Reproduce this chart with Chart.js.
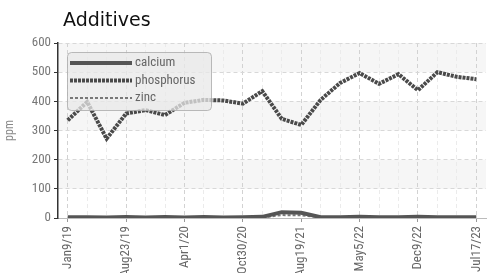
<!DOCTYPE html>
<html lang="en">
<head>
    <meta charset="UTF-8">
    <title>Additives</title>
    <script src="https://cdn.jsdelivr.net/npm/chart.js"></script>
    <style>
        html, body { margin: 0; padding: 0; background: #fff; overflow: hidden; }
        #wrap { width: 496px; height: 273px; }
    </style>
</head>
<body>
    <div id="wrap"><canvas id="additivesChart" width="496" height="273"></canvas></div>

    <script>
        // sample dates (only every 3rd one is shown on the axis)
        const dates = [
            "Jan9/19", "Mar28/19", "Jun10/19", "Aug23/19", "Nov5/19", "Jan20/20",
            "Apr1/20", "Jun15/20", "Aug24/20", "Oct30/20", "Feb3/21", "May12/21",
            "Aug19/21", "Nov2/21", "Feb14/22", "May5/22", "Jul20/22", "Sep28/22",
            "Dec9/22", "Mar1/23", "May10/23", "Jul17/23"
        ];
        const calcium = [3, 3, 2, 3, 2, 3, 2, 3, 2, 3, 4, 20, 18, 3, 3, 4, 3, 3, 4, 3, 3, 3];
        const phosphorus = [335, 398, 272, 358, 370, 353, 395, 405, 403, 392, 435, 340, 319, 405, 463, 497, 460, 493, 438, 500, 484, 476];
        const zinc = [1, 1, 1, 1, 1, 1, 1, 1, 1, 1, 2, 10, 9, 2, 1, 2, 1, 1, 2, 1, 1, 1];
        const yTicks = [0, 100, 200, 300, 400, 500, 600];
        const shadedBands = [[100, 200], [300, 400], [500, 600]];
        const chartTitle = "Additives";

        const narrow = "'Liberation Sans Narrow', 'Roboto Condensed', Roboto, sans-serif";

        // light horizontal stripes behind the grid
        const bandsPlugin = {
            id: "bands",
            beforeDraw(chart) {
                const { ctx, chartArea, scales } = chart;
                ctx.save();
                ctx.fillStyle = "#f6f6f6";
                shadedBands.forEach(([lo, hi]) => {
                    const y1 = scales.y.getPixelForValue(hi);
                    const y2 = scales.y.getPixelForValue(lo);
                    ctx.fillRect(chartArea.left, y1, chartArea.right - chartArea.left, y2 - y1);
                });
                ctx.restore();
            }
        };

        // title sits a little right of the y axis
        const titlePlugin = {
            id: "leftTitle",
            afterDraw(chart) {
                const { ctx, chartArea } = chart;
                ctx.save();
                ctx.font = "19px 'DejaVu Sans', sans-serif";
                ctx.fillStyle = "#111";
                ctx.textBaseline = "alphabetic";
                ctx.fillText(chartTitle, chartArea.left + 5, 26);
                ctx.restore();
            }
        };

        // legend box drawn over the lines, top-left of the plot
        const boxLegend = {
            id: "boxLegend",
            afterDatasetsDraw(chart) {
                const { ctx, chartArea } = chart;
                const x = chartArea.left + 9, y = chartArea.top + 9;
                ctx.save();
                ctx.fillStyle = "rgba(232,232,232,0.75)";
                ctx.strokeStyle = "rgba(170,170,170,0.8)";
                ctx.lineWidth = 1;
                ctx.beginPath();
                ctx.roundRect(x + 0.5, y + 0.5, 144, 58, 4);
                ctx.fill();
                ctx.stroke();
                ctx.font = "13px " + narrow;
                ctx.textBaseline = "middle";
                chart.data.datasets.forEach((ds, i) => {
                    const ly = y + 11 + i * 17.5;
                    ctx.beginPath();
                    ctx.setLineDash(ds.borderDash || []);
                    ctx.lineWidth = ds.borderWidth;
                    ctx.strokeStyle = ds.borderColor;
                    ctx.moveTo(x + 3, ly);
                    ctx.lineTo(x + 65, ly);
                    ctx.stroke();
                    ctx.setLineDash([]);
                    ctx.fillStyle = "#666";
                    ctx.fillText(ds.label, x + 68, ly);
                });
                ctx.restore();
            }
        };

        const ctx = document.getElementById("additivesChart").getContext("2d");
        new Chart(ctx, {
            type: "line",
            data: {
                labels: dates,
                datasets: [
                    {
                        label: "calcium",
                        data: calcium,
                        borderColor: "#555",
                        borderWidth: 4,
                        pointRadius: 0,
                        tension: 0
                    },
                    {
                        label: "phosphorus",
                        data: phosphorus,
                        borderColor: "#4a4a4a",
                        borderWidth: 4,
                        borderDash: [3, 1],
                        pointRadius: 0,
                        tension: 0
                    },
                    {
                        label: "zinc",
                        data: zinc,
                        borderColor: "#777",
                        borderWidth: 2,
                        borderDash: [3, 2],
                        pointRadius: 0,
                        tension: 0
                    }
                ]
            },
            options: {
                responsive: false,
                animation: false,
                devicePixelRatio: 1,
                layout: { padding: { left: 0, right: 4, top: 43, bottom: 0 } },
                plugins: {
                    legend: { display: false },
                    tooltip: { enabled: false },
                    title: { display: false }
                },
                scales: {
                    x: {
                        offset: true,
                        afterFit: (s) => { s.height = 55; },
                        grid: {
                            offset: false,
                            color: (c) => (c.index % 3 === 0 ? "#d2d2d2" : "#ebebeb"),
                            tickColor: (c) => (c.index % 3 === 0 ? "#999" : "rgba(0,0,0,0)"),
                            tickLength: 4,
                            tickBorderDash: []
                        },
                        border: { display: true, color: "#bbb", dash: [4, 3] },
                        ticks: {
                            autoSkip: false,
                            minRotation: 90,
                            maxRotation: 90,
                            padding: 4,
                            color: "#666",
                            font: { family: narrow, size: 13 },
                            callback: function (val, i) { return i % 3 === 0 ? this.getLabelForValue(val) : ""; }
                        }
                    },
                    y: {
                        min: 0,
                        max: 600,
                        afterFit: (s) => { s.width = 58; },
                        afterBuildTicks: (s) => { s.ticks = yTicks.map((v) => ({ value: v })); },
                        grid: {
                            color: "#d8d8d8",
                            tickColor: "#333",
                            tickLength: 4,
                            tickBorderDash: []
                        },
                        border: { display: true, color: "#333", width: 1.5, dash: [4, 3] },
                        ticks: {
                            color: "#777",
                            padding: 3,
                            font: { family: narrow, size: 13 }
                        },
                        title: {
                            display: true,
                            text: "ppm",
                            color: "#888",
                            padding: { top: 3, bottom: 0 },
                            font: { family: narrow, size: 12 }
                        }
                    }
                }
            },
            plugins: [bandsPlugin, boxLegend, titlePlugin]
        });
    </script>
</body>
</html>
